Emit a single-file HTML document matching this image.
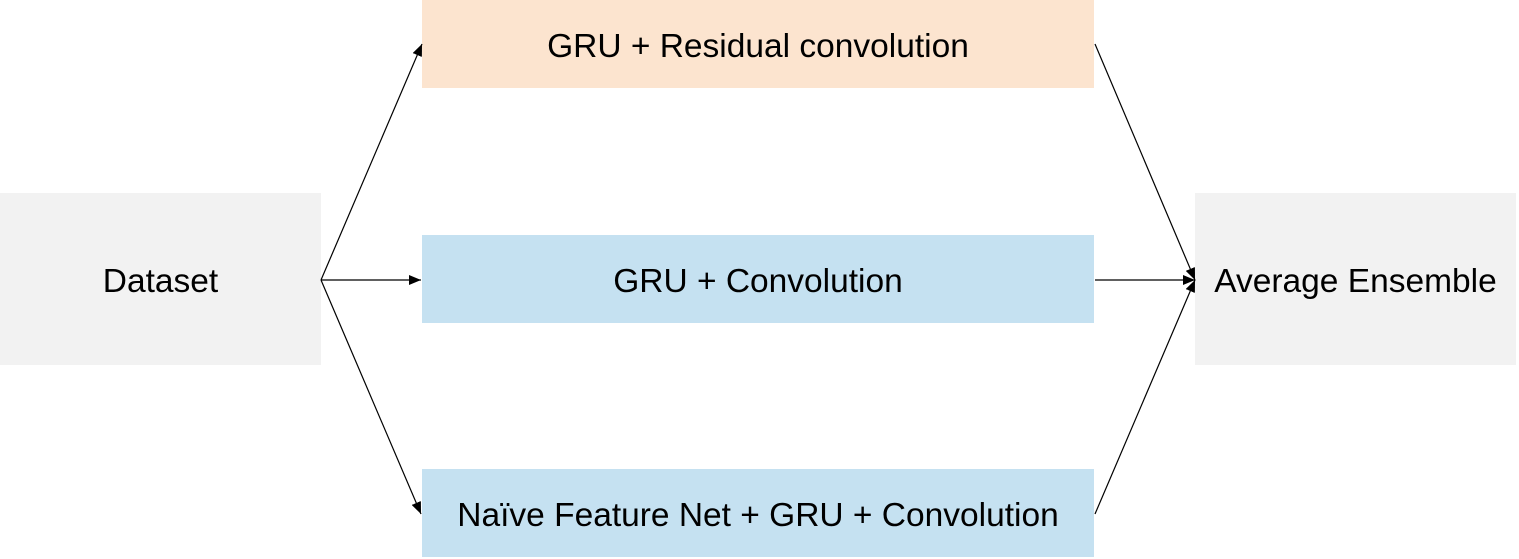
<!DOCTYPE html>
<html><head><style>
html,body{margin:0;padding:0;background:#fff;width:1519px;height:559px;overflow:hidden}
.b{position:absolute;display:flex;align-items:center;justify-content:center;font-family:"Liberation Sans",sans-serif;font-size:33.5px;color:#000;box-sizing:border-box;padding-top:5px;white-space:nowrap}
</style></head><body>
<div class="b" style="left:0;top:193px;width:321px;height:172px;background:#f2f2f2">Dataset</div>
<div class="b" style="left:422px;top:0;width:672px;height:88px;background:#fce4cf">GRU + Residual convolution</div>
<div class="b" style="left:422px;top:235px;width:672px;height:88px;background:#c5e1f1">GRU + Convolution</div>
<div class="b" style="left:422px;top:469px;width:672px;height:88px;background:#c5e1f1">Naïve Feature Net + GRU + Convolution</div>
<div class="b" style="left:1195px;top:193px;width:321px;height:172px;background:#f2f2f2">Average Ensemble</div>
<svg width="1519" height="559" style="position:absolute;left:0;top:0">
<defs><marker id="a" markerWidth="12" markerHeight="10" refX="12" refY="5" orient="auto" markerUnits="userSpaceOnUse"><path d="M0,0L12,5L0,10z" fill="#000"/></marker></defs>
<g stroke="#000" stroke-width="1.2" fill="none" marker-end="url(#a)">
<line x1="321" y1="280" x2="422" y2="44"/>
<line x1="321" y1="280" x2="421" y2="280"/>
<line x1="321" y1="280" x2="421" y2="514"/>
<line x1="1095" y1="44" x2="1195" y2="280"/>
<line x1="1095" y1="280" x2="1195" y2="280"/>
<line x1="1095" y1="514" x2="1195" y2="280"/>
</g></svg>
</body></html>
